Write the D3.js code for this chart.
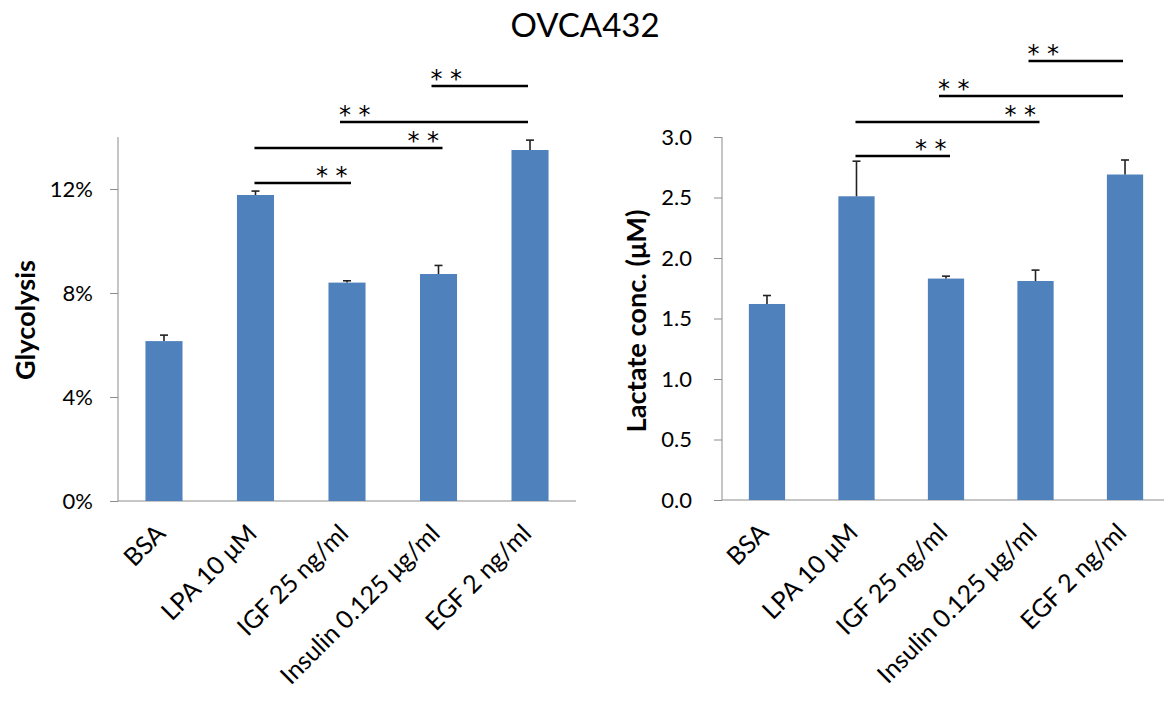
<!DOCTYPE html>
<html>
<head>
<meta charset="utf-8">
<script src="https://cdn.jsdelivr.net/npm/d3@7"></script>
<style>
  html, body { margin: 0; padding: 0; background: #fff; }
  svg { display: block; font-family: Lato, "Open Sans", sans-serif; }
</style>
</head>
<body>
<svg id="chart" width="1164" height="711"></svg>
<script>
// Treatment groups shared by both panels
const categories = ["BSA", "LPA 10 μM", "IGF 25 ng/ml", "Insulin 0.125 μg/ml", "EGF 2 ng/ml"];

// Glycolysis (%), mean and SD
const glycolysisMean = [6.15, 11.77, 8.40, 8.73, 13.50];
const glycolysisErr  = [0.23, 0.15, 0.07, 0.33, 0.38];
const glycolysisTicks = [0, 4, 8, 12];

// Lactate concentration (μM), mean and SD
const lactateMean = [1.62, 2.51, 1.83, 1.81, 2.69];
const lactateErr  = [0.07, 0.29, 0.02, 0.09, 0.12];
const lactateTicks = [0, 0.5, 1.0, 1.5, 2.0, 2.5, 3.0];

// Significance brackets: [from index, to index, height in data units, star side]
const glycolysisSig = [[1, 2, 12.23, "end"], [1, 3, 13.58, "end"], [2, 4, 14.58, "start"], [3, 4, 15.96, "start"]];
const lactateSig    = [[1, 2, 2.843, "end"], [1, 3, 3.124, "end"], [2, 4, 3.339, "start"], [3, 4, 3.628, "start"]];

const svg = d3.select("#chart");
const barColor = "#4F81BD";
const axisColor = "#8c8c8c";

svg.append("text")
  .attr("x", 585).attr("y", 37)
  .attr("text-anchor", "middle")
  .attr("font-size", 33)
  .attr("fill", "#000")
  .text("OVCA432");

function panel(opts) {
  const g = svg.append("g");
  const x = d3.scaleBand().domain(categories)
    .range([opts.x0, opts.x1]).paddingInner(0.595).paddingOuter(0.3);
  const y = d3.scaleLinear().domain(opts.domain).range([opts.y0, opts.y1]);
  const cx = i => x(categories[i]) + x.bandwidth() / 2;

  // y axis
  const yAxis = d3.axisLeft(y).tickValues(opts.ticks).tickFormat(opts.fmt)
    .tickSizeOuter(0).tickSizeInner(8).tickPadding(opts.tickPad);
  const ya = g.append("g").attr("transform", `translate(${opts.x0},0)`).call(yAxis);
  ya.select(".domain").attr("stroke", axisColor).attr("d", `M0,${opts.y0}V${opts.y1}`);
  ya.selectAll(".tick line").attr("stroke", axisColor);
  ya.selectAll(".tick text").attr("font-size", 22).attr("fill", "#000")
    .attr("font-family", "Lato, sans-serif");

  // x axis baseline
  g.append("line")
    .attr("x1", opts.x0).attr("x2", opts.x1)
    .attr("y1", y(0)).attr("y2", y(0))
    .attr("stroke", axisColor).attr("stroke-width", 1);

  // bars
  g.selectAll("rect.bar").data(opts.mean).join("rect")
    .attr("class", "bar")
    .attr("x", (d, i) => x(categories[i]))
    .attr("width", x.bandwidth())
    .attr("y", d => y(d))
    .attr("height", d => y(0) - y(d))
    .attr("fill", barColor);

  // upper error bars
  const eb = g.selectAll("g.err").data(opts.mean).join("g").attr("class", "err");
  eb.append("line")
    .attr("x1", (d, i) => cx(i)).attr("x2", (d, i) => cx(i))
    .attr("y1", d => y(d))
    .attr("y2", (d, i) => y(d + opts.err[i]))
    .attr("stroke", "#222").attr("stroke-width", 1.6);
  eb.append("line")
    .attr("x1", (d, i) => cx(i) - 4).attr("x2", (d, i) => cx(i) + 4)
    .attr("y1", (d, i) => y(d + opts.err[i]))
    .attr("y2", (d, i) => y(d + opts.err[i]))
    .attr("stroke", "#222").attr("stroke-width", 1.6);

  // category labels, rotated
  g.selectAll("text.cat").data(categories).join("text")
    .attr("class", "cat")
    .attr("text-anchor", "end")
    .attr("font-size", 25)
    .attr("fill", "#000")
    .attr("transform", (d, i) => `translate(${cx(i) + 3},${y(0) + 34}) rotate(-45)`)
    .text(d => d);

  // axis title
  g.append("text")
    .attr("transform", `translate(${opts.titleX},${opts.titleY}) rotate(-90)`)
    .attr("text-anchor", "middle")
    .attr("font-size", 26)
    .attr("font-weight", "bold")
    .attr("fill", "#000")
    .attr("textLength", opts.titleLen)
    .attr("lengthAdjust", "spacingAndGlyphs")
    .text(opts.title);

  // significance brackets with double-asterisk labels
  opts.sig.forEach(([a, b, lvl, side]) => {
    const xa = cx(a) + (side === "start" ? -7 : -1);
    const xb = cx(b) + (side === "start" ? -2 : 4);
    const ly = y(lvl);
    g.append("line")
      .attr("x1", xa).attr("x2", xb)
      .attr("y1", ly).attr("y2", ly)
      .attr("stroke", "#000").attr("stroke-width", 2.5);
    const s0 = side === "start" ? xa + 5 : xb - 29;
    [s0, s0 + 19.5].forEach(sx => {
      g.append("text")
        .attr("x", sx).attr("y", ly + 1)
        .attr("text-anchor", "middle")
        .attr("font-size", 24)
        .attr("font-family", "'DejaVu Sans', sans-serif")
        .attr("fill", "#000")
        .text("*");
    });
  });
}

panel({
  x0: 118, x1: 576, y0: 501, y1: 137, domain: [0, 14],
  mean: glycolysisMean, err: glycolysisErr, ticks: glycolysisTicks, tickPad: 17,
  fmt: d => d + "%", title: "Glycolysis", titleX: 35, titleY: 320, titleLen: 120,
  sig: glycolysisSig
});

panel({
  x0: 722, x1: 1170, y0: 500, y1: 137, domain: [0, 3],
  mean: lactateMean, err: lactateErr, ticks: lactateTicks, tickPad: 22,
  fmt: d3.format(".1f"), title: "Lactate conc. (μM)", titleX: 646, titleY: 321, titleLen: 223,
  sig: lactateSig
});
</script>
</body>
</html>
